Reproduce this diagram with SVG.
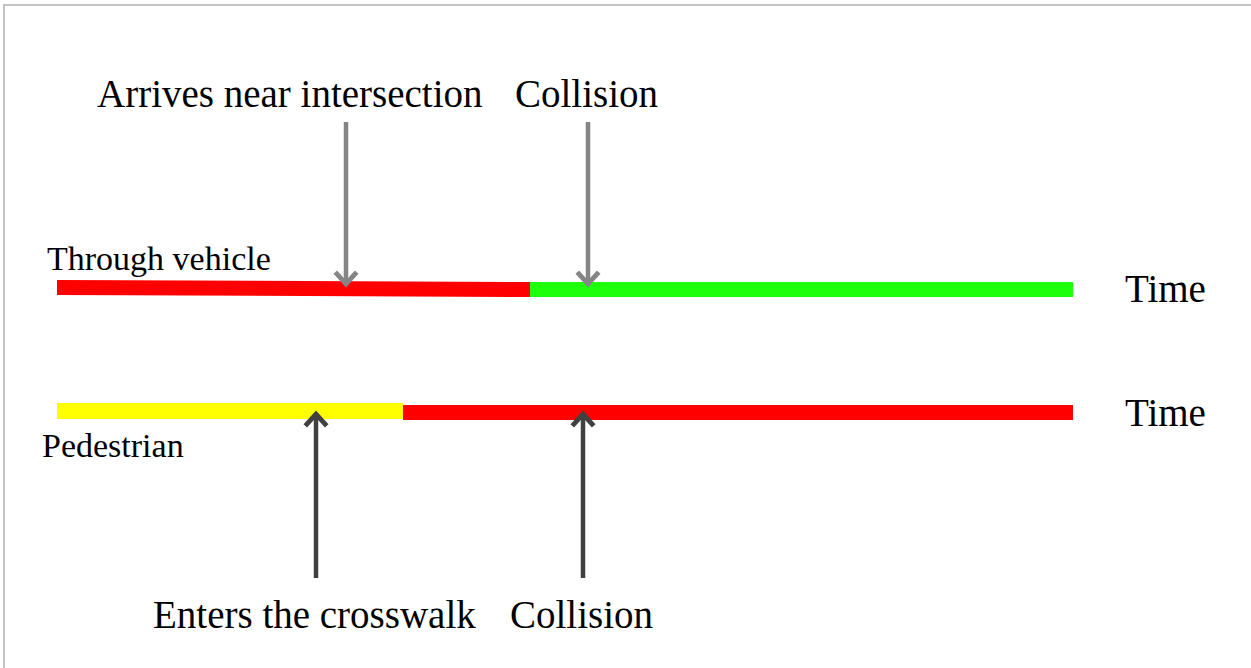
<svg xmlns="http://www.w3.org/2000/svg" width="1251" height="668" viewBox="0 0 1251 668">
  <style>
    .lbl { font-family: "Liberation Serif", "Times New Roman", serif; fill: #000; }
    .big { font-size: 39px; }
    .small { font-size: 34px; }
    .arrGray { stroke: #858585; stroke-width: 4.5; fill: none; }
    .arrDark { stroke: #404040; stroke-width: 4.5; fill: none; }
  </style>
  <defs>
    <marker id="headGray" markerUnits="userSpaceOnUse" markerWidth="30" markerHeight="30" viewBox="-16 -14 20 28" refX="0" refY="0" orient="auto">
      <path d="M-12,-10 L-1,0 L-12,10" fill="none" stroke="#858585" stroke-width="4.5" stroke-linejoin="miter"/>
    </marker>
    <marker id="headDark" markerUnits="userSpaceOnUse" markerWidth="30" markerHeight="30" viewBox="-16 -14 20 28" refX="0" refY="0" orient="auto">
      <path d="M-12,-10 L-1,0 L-12,10" fill="none" stroke="#404040" stroke-width="4.5" stroke-linejoin="miter"/>
    </marker>
  </defs>
  <rect x="0" y="0" width="1251" height="668" fill="#ffffff"/>
  <g id="frame">
    <line x1="3" y1="5" x2="1251" y2="5" stroke="#c4c4c4" stroke-width="2"/>
    <line x1="4" y1="5" x2="4" y2="668" stroke="#c4c4c4" stroke-width="2"/>
  </g>
  <g id="vehicle-timeline">
    <polygon points="57,280 530,282 530,297 57,295" fill="#ff0000"/>
    <rect x="530" y="282" width="543" height="15" fill="#1eff0c"/>
    <text class="lbl small" x="47" y="270">Through vehicle</text>
    <text class="lbl big" x="1125" y="302">Time</text>
  </g>
  <g id="pedestrian-timeline">
    <rect x="57" y="403" width="346" height="16" fill="#ffff00"/>
    <rect x="403" y="405" width="670" height="15" fill="#ff0000"/>
    <text class="lbl small" x="42" y="457">Pedestrian</text>
    <text class="lbl big" x="1125" y="426">Time</text>
  </g>
  <g id="label-arrives">
    <text class="lbl big" x="97" y="107">Arrives near intersection</text>
  </g>
  <g id="label-collision-top">
    <text class="lbl big" x="515" y="107">Collision</text>
  </g>
  <g id="label-enters">
    <text class="lbl big" x="153" y="628">Enters the crosswalk</text>
  </g>
  <g id="label-collision-bottom">
    <text class="lbl big" x="510" y="628">Collision</text>
  </g>
  <g id="connectors">
    <line class="arrGray" x1="346" y1="122" x2="346" y2="285" marker-end="url(#headGray)"/>
    <line class="arrGray" x1="588" y1="122" x2="588" y2="285" marker-end="url(#headGray)"/>
    <line class="arrDark" x1="316" y1="578" x2="316" y2="413" marker-end="url(#headDark)"/>
    <line class="arrDark" x1="583" y1="578" x2="583" y2="413" marker-end="url(#headDark)"/>
  </g>
</svg>
